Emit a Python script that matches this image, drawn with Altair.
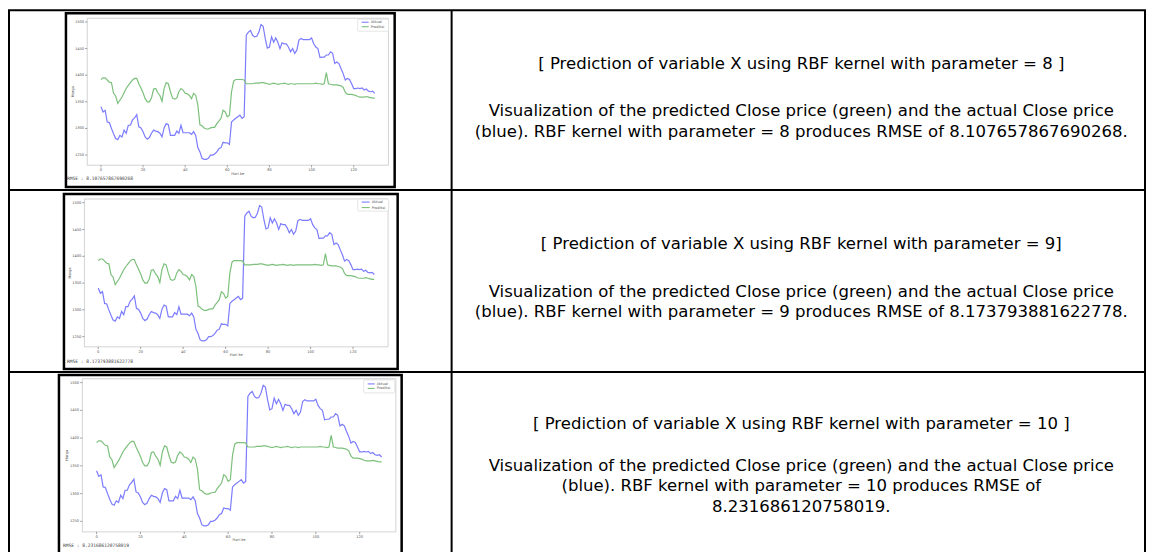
import altair as alt
import pandas as pd

# ---------------- data ----------------
days = list(range(131))

actual = [
    1341, 1331, 1334, 1312, 1311, 1300, 1290, 1281, 1279, 1287,
    1284, 1297, 1291, 1306, 1306, 1316, 1320, 1326, 1303, 1301,
    1294, 1284, 1280, 1283, 1291, 1297, 1295, 1294, 1291, 1284,
    1301, 1309, 1307, 1287, 1287, 1287, 1295, 1291, 1306, 1292,
    1292, 1292, 1292, 1289, 1294, 1287, 1264, 1256, 1244, 1242,
    1242, 1244, 1250, 1250, 1252, 1256, 1262, 1264, 1274, 1273,
    1273, 1270, 1312, 1316, 1319, 1322, 1325, 1319, 1322, 1475,
    1481, 1484, 1475, 1472, 1473, 1481, 1495, 1492, 1469, 1451,
    1453, 1472, 1462, 1470, 1462, 1450, 1461, 1459, 1459, 1453,
    1444, 1450, 1441, 1447, 1466, 1469, 1467, 1467, 1467, 1467,
    1470, 1459, 1453, 1450, 1433, 1434, 1434, 1438, 1438, 1444,
    1441, 1422, 1425, 1422, 1412, 1403, 1391, 1394, 1392, 1384,
    1375, 1375, 1376, 1375, 1376, 1372, 1374, 1370, 1369, 1370,
    1366,
]

predicted = [
    1392, 1395, 1395, 1391, 1387, 1386, 1366, 1361, 1347, 1353,
    1359, 1367, 1375, 1381, 1386, 1391, 1394, 1394, 1384, 1376,
    1367, 1356, 1350, 1350, 1357, 1374, 1375, 1367, 1362, 1351,
    1375, 1386, 1384, 1369, 1357, 1355, 1357, 1369, 1375, 1372,
    1366, 1365, 1362, 1356, 1366, 1362, 1344, 1307, 1305, 1301,
    1299, 1299, 1301, 1302, 1302, 1309, 1314, 1319, 1334, 1331,
    1322, 1325, 1369, 1389, 1392, 1392, 1392, 1392, 1391, 1384,
    1384, 1384, 1384, 1385, 1385, 1385, 1386, 1386, 1385, 1384,
    1383, 1384, 1385, 1384, 1383, 1384, 1384, 1385, 1384, 1383,
    1384, 1384, 1383, 1384, 1384, 1384, 1384, 1384, 1384, 1384,
    1384, 1384, 1385, 1384, 1384, 1383, 1384, 1405, 1384, 1383,
    1382, 1382, 1382, 1381, 1380, 1377, 1368, 1364, 1364, 1364,
    1363, 1362, 1360, 1359, 1359, 1359, 1360, 1359, 1358, 1357,
    1357,
]

series_names = ["Aktual", "Prediksi"]
series_colors = ["#7c7cff", "#7cc07c"]
rmse_values = ["8.107657867690268", "8.173793881622778", "8.231686120758019"]
x_ticks = [0, 20, 40, 60, 80, 100, 120]
y_ticks = [1250, 1300, 1350, 1400, 1450, 1500]
x_title = "Hari ke"
y_title = "Harga"
titles = [
    "[ Prediction of variable X using RBF kernel with parameter = 8 ]",
    "[ Prediction of variable X using RBF kernel with parameter = 9]",
    "[ Prediction of variable X using RBF kernel with parameter = 10 ]",
]
descriptions = [
    ["Visualization of the predicted Close price (green) and the actual Close price",
     "(blue). RBF kernel with parameter = 8 produces RMSE of 8.107657867690268."],
    ["Visualization of the predicted Close price (green) and the actual Close price",
     "(blue). RBF kernel with parameter = 9 produces RMSE of 8.173793881622778."],
    ["Visualization of the predicted Close price (green) and the actual Close price",
     "(blue). RBF kernel with parameter = 10 produces RMSE of",
     "8.231686120758019."],
]
X_DOMAIN = [-6.5, 136.5]
Y_DOMAIN = [1231, 1507]

# ---------------- layout (pixels) ----------------
W = 1137
DIVIDER_X = 443
TEXT_CX = 793
LINE_H = 20.5
geoms = [
    dict(h=180, img=(57, 386, 3, 177), xr=(78.3, 379.8), yr=(155.1, 8.0), ylab_x=64, xlab_y=164,
         rmse=(58, 169), leg=(349, 380, 9, 21), leg_line=(353, 360), leg_y=(12, 16.5),
         title_y=54, desc_top=101),
    dict(h=182, img=(55, 389, 4, 179), xr=(75.5, 379.4), yr=(156.9, 8.9), ylab_x=61, xlab_y=165,
         rmse=(58, 172), leg=(349, 380, 9, 21), leg_line=(353, 361), leg_y=(12, 17.5),
         title_y=54, desc_top=102),
    dict(h=190, img=(50, 393, 3, 196), xr=(73.4, 387.2), yr=(160.1, 6.8), ylab_x=58, xlab_y=168,
         rmse=(54, 174), leg=(355, 386, 8, 21), leg_line=(359, 366), leg_y=(12, 16.5),
         title_y=52, desc_top=94),
]

one = pd.DataFrame({"a": [0]})
TEXT_FONT = "DejaVu Sans"
TEXT_SIZE = 16.55


def make_row(i):
    g = geoms[i]
    xs = alt.Scale(domain=X_DOMAIN, range=list(g["xr"]), nice=False, zero=False)
    ys = alt.Scale(domain=Y_DOMAIN, range=list(g["yr"]), nice=False, zero=False)
    layers = []

    # divider between the two table columns
    layers.append(alt.Chart(one).mark_rule(color="black", strokeWidth=2).encode(
        x=alt.value(DIVIDER_X), y=alt.value(0), y2=alt.value(g["h"])))

    # picture border
    l, r, t, b = g["img"]
    layers.append(alt.Chart(one).mark_rect(fill="white", stroke="black", strokeWidth=2.5).encode(
        x=alt.value(l), x2=alt.value(r), y=alt.value(t), y2=alt.value(b)))

    # axes frame
    frame_df = pd.DataFrame({"x0": [X_DOMAIN[0]], "x1": [X_DOMAIN[1]],
                             "y0": [Y_DOMAIN[0]], "y1": [Y_DOMAIN[1]]})
    layers.append(alt.Chart(frame_df).mark_rect(fill="white", stroke="#c8c8c8", strokeWidth=0.8).encode(
        x=alt.X("x0:Q", scale=xs, axis=None), x2="x1",
        y=alt.Y("y0:Q", scale=ys, axis=None), y2="y1"))

    # ticks
    xt = pd.DataFrame({"v": x_ticks})
    yt = pd.DataFrame({"v": y_ticks})
    layers.append(alt.Chart(yt).mark_rule(color="#666", strokeWidth=0.6).encode(
        y=alt.Y("v:Q", scale=ys, axis=None),
        x=alt.value(g["xr"][0] - 2.2), x2=alt.value(g["xr"][0])))
    layers.append(alt.Chart(xt).mark_rule(color="#666", strokeWidth=0.6).encode(
        x=alt.X("v:Q", scale=xs, axis=None),
        y=alt.value(g["yr"][0]), y2=alt.value(g["yr"][0] + 2.2)))
    layers.append(alt.Chart(yt).mark_text(align="right", baseline="middle", fontSize=3.6,
                                         color="#555", font="DejaVu Sans").encode(
        y=alt.Y("v:Q", scale=ys, axis=None), x=alt.value(g["xr"][0] - 3.2), text="v:Q"))
    layers.append(alt.Chart(xt).mark_text(align="center", baseline="top", fontSize=3.6,
                                         color="#555", font="DejaVu Sans").encode(
        x=alt.X("v:Q", scale=xs, axis=None), y=alt.value(g["yr"][0] + 3), text="v:Q"))

    # axis titles
    layers.append(alt.Chart(one).mark_text(angle=270, align="center", baseline="middle", fontSize=3.7,
                                          color="#555", font="DejaVu Sans").encode(
        x=alt.value(g["ylab_x"]), y=alt.value((g["yr"][0] + g["yr"][1]) / 2), text=alt.value(y_title)))
    layers.append(alt.Chart(one).mark_text(align="center", baseline="middle", fontSize=3.7,
                                          color="#555", font="DejaVu Sans").encode(
        x=alt.value((g["xr"][0] + g["xr"][1]) / 2), y=alt.value(g["xlab_y"]), text=alt.value(x_title)))

    # lines
    for vals, col in [(actual, series_colors[0]), (predicted, series_colors[1])]:
        df = pd.DataFrame({"day": days, "price": vals})
        layers.append(alt.Chart(df).mark_line(color=col, strokeWidth=1.2).encode(
            x=alt.X("day:Q", scale=xs, axis=None), y=alt.Y("price:Q", scale=ys, axis=None)))

    # legend
    ll, lr, lt, lb = g["leg"]
    layers.append(alt.Chart(one).mark_rect(fill="white", stroke="#d4d4d4", strokeWidth=0.6,
                                          cornerRadius=1).encode(
        x=alt.value(ll), x2=alt.value(lr), y=alt.value(lt), y2=alt.value(lb)))
    for k, name in enumerate(series_names):
        yy = g["leg_y"][k]
        layers.append(alt.Chart(one).mark_rule(color=series_colors[k], strokeWidth=1.1).encode(
            x=alt.value(g["leg_line"][0]), x2=alt.value(g["leg_line"][1]), y=alt.value(yy)))
        layers.append(alt.Chart(one).mark_text(align="left", baseline="middle", fontSize=3.5,
                                              color="#555", font="DejaVu Sans").encode(
            x=alt.value(g["leg_line"][1] + 2), y=alt.value(yy), text=alt.value(name)))

    # RMSE note
    layers.append(alt.Chart(one).mark_text(align="left", baseline="middle", fontSize=4.6,
                                          color="#444", font="DejaVu Sans Mono").encode(
        x=alt.value(g["rmse"][0]), y=alt.value(g["rmse"][1]),
        text=alt.value("RMSE : " + rmse_values[i])))

    # right column text: title line and a multi-line description block
    layers.append(alt.Chart(one).mark_text(align="center", baseline="middle", fontSize=TEXT_SIZE,
                                          color="black", font=TEXT_FONT).encode(
        x=alt.value(TEXT_CX), y=alt.value(g["title_y"]), text=alt.value(titles[i])))
    layers.append(alt.Chart(one).mark_text(align="center", baseline="middle", fontSize=TEXT_SIZE,
                                          color="black", font=TEXT_FONT, lineBreak="\n",
                                          lineHeight=LINE_H).encode(
        x=alt.value(TEXT_CX), y=alt.value(g["desc_top"]),
        text=alt.value("\n".join(descriptions[i]))))

    return alt.layer(*layers).properties(width=W, height=g["h"])


chart = alt.vconcat(*[make_row(i) for i in range(3)], spacing=0, bounds="flush").properties(
    padding=0
).configure_view(stroke="black", strokeWidth=2)

chart.save("out.html", embed_options={"renderer": "svg", "actions": False})
